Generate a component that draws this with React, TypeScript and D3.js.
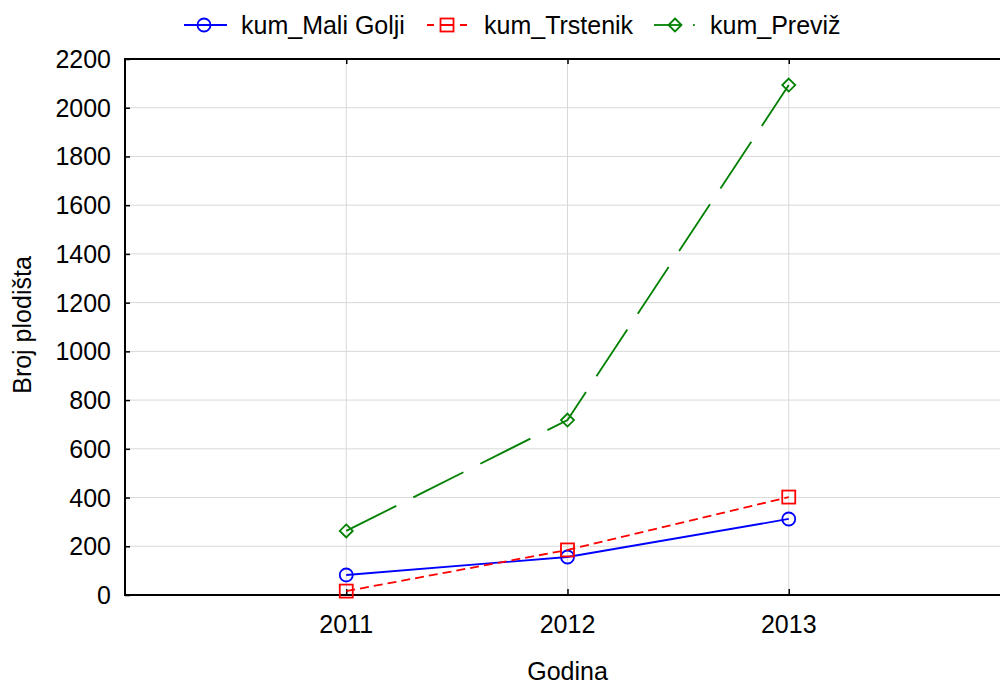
import React, { useEffect, useRef } from 'react';
import * as d3 from 'd3';

const years = [2011, 2012, 2013];
const maliGolji = [82, 156, 312];
const trstenik = [16, 185, 402];
const previz = [263, 718, 2093];
const yTicks = [0, 200, 400, 600, 800, 1000, 1200, 1400, 1600, 1800, 2000, 2200];

const seriesNames = ['kum_Mali Golji', 'kum_Trstenik', 'kum_Previž'];
const seriesColors = ['#0000ff', '#ff0000', '#008000'];
const seriesDash = ['none', '9,5', '56,19'];
const seriesMarker = ['circle', 'square', 'diamond'];

const W = 1000;
const H = 684;
const FONT = '"Liberation Sans", Arial, sans-serif';
const FS = 25;
const LW = 1.8;

const App: React.FC = () => {
  const svgRef = useRef<SVGSVGElement>(null);

  useEffect(() => {
    if (!svgRef.current) return;
    const svg = d3.select(svgRef.current);
    svg.selectAll('*').remove();

    const margin = { top: 59, right: -10, bottom: 89, left: 125 };
    const x = d3.scaleLinear().domain([2010, 2014]).range([margin.left, W - margin.right]);
    const y = d3.scaleLinear().domain([0, 2200]).range([H - margin.bottom, margin.top]);

    const values = [maliGolji, trstenik, previz];

    // grid
    svg.append('g')
      .selectAll('line')
      .data(yTicks.slice(1, -1))
      .enter()
      .append('line')
      .attr('x1', x(2010)).attr('x2', x(2014))
      .attr('y1', d => y(d)).attr('y2', d => y(d))
      .attr('stroke', '#d9d9d9').attr('stroke-width', 1);

    svg.append('g')
      .selectAll('line')
      .data(years)
      .enter()
      .append('line')
      .attr('x1', d => x(d)).attr('x2', d => x(d))
      .attr('y1', y(0)).attr('y2', y(2200))
      .attr('stroke', '#d9d9d9').attr('stroke-width', 1);

    // axes (ticks inside)
    const left = svg.append('g')
      .attr('transform', `translate(${x(2010)},0)`)
      .call(d3.axisRight(y).tickValues(yTicks).tickSize(5).tickFormat(() => ''));
    left.select('.domain').remove();
    left.selectAll('line').attr('stroke', '#000').attr('stroke-width', 1.5);

    const bottom = svg.append('g')
      .attr('transform', `translate(0,${y(0)})`)
      .call(d3.axisTop(x).tickValues(years).tickSize(6).tickFormat(() => ''));
    bottom.select('.domain').remove();
    bottom.selectAll('line').attr('stroke', '#000').attr('stroke-width', 1.5);

    const top = svg.append('g')
      .attr('transform', `translate(0,${y(2200)})`)
      .call(d3.axisBottom(x).tickValues(years).tickSize(5).tickFormat(() => ''));
    top.select('.domain').remove();
    top.selectAll('line').attr('stroke', '#000').attr('stroke-width', 1.5);

    // frame
    svg.append('path')
      .attr('d', `M${x(2014)},${y(2200)}H${x(2010)}V${y(0)}H${x(2014)}`)
      .attr('fill', 'none').attr('stroke', '#000').attr('stroke-width', 2);

    // tick labels
    svg.append('g')
      .selectAll('text')
      .data(yTicks)
      .enter()
      .append('text')
      .attr('x', x(2010) - 14)
      .attr('y', d => y(d))
      .attr('dy', '0.36em')
      .attr('text-anchor', 'end')
      .attr('font-family', FONT).attr('font-size', FS)
      .text(d => d);

    svg.append('g')
      .selectAll('text')
      .data(years)
      .enter()
      .append('text')
      .attr('x', d => x(d))
      .attr('y', 633)
      .attr('text-anchor', 'middle')
      .attr('font-family', FONT).attr('font-size', FS)
      .text(d => d);

    // axis titles
    svg.append('text')
      .attr('x', x(2012)).attr('y', 680)
      .attr('text-anchor', 'middle')
      .attr('font-family', FONT).attr('font-size', FS)
      .text('Godina');

    svg.append('text')
      .attr('transform', `translate(31,${325}) rotate(-90)`)
      .attr('text-anchor', 'middle')
      .attr('font-family', FONT).attr('font-size', FS)
      .text('Broj plodišta');

    const drawMarker = (g: d3.Selection<SVGGElement, unknown, null, undefined>, kind: string, cx: number, cy: number, color: string) => {
      if (kind === 'circle') {
        g.append('circle').attr('cx', cx).attr('cy', cy).attr('r', 6.5)
          .attr('fill', 'none').attr('stroke', color).attr('stroke-width', LW);
      } else if (kind === 'square') {
        g.append('rect').attr('x', cx - 6.5).attr('y', cy - 6.5).attr('width', 13).attr('height', 13)
          .attr('fill', 'none').attr('stroke', color).attr('stroke-width', LW);
      } else {
        g.append('path').attr('d', `M${cx},${cy - 6.5}L${cx + 6.5},${cy}L${cx},${cy + 6.5}L${cx - 6.5},${cy}Z`)
          .attr('fill', 'none').attr('stroke', color).attr('stroke-width', LW);
      }
    };

    // series
    const line = d3.line<number>()
      .x((_, i) => x(years[i]))
      .y(d => y(d));

    values.forEach((vals, si) => {
      const g = svg.append('g');
      g.append('path')
        .datum(vals)
        .attr('fill', 'none')
        .attr('stroke', seriesColors[si])
        .attr('stroke-width', LW)
        .attr('stroke-dasharray', seriesDash[si])
        .attr('d', line);
      vals.forEach((v, i) => drawMarker(g, seriesMarker[si], x(years[i]), y(v), seriesColors[si]));
    });

    // legend
    const legendY = 25;
    const legendText = [241, 484, 710];
    // blue
    const g0 = svg.append('g');
    g0.append('line').attr('x1', 184).attr('x2', 227).attr('y1', legendY).attr('y2', legendY)
      .attr('stroke', seriesColors[0]).attr('stroke-width', LW);
    drawMarker(g0, 'circle', 204, legendY, seriesColors[0]);
    // red
    const g1 = svg.append('g');
    g1.append('line').attr('x1', 427).attr('x2', 467).attr('y1', legendY).attr('y2', legendY)
      .attr('stroke', seriesColors[1]).attr('stroke-width', LW).attr('stroke-dasharray', '7,7,13,6,7');
    drawMarker(g1, 'square', 447, legendY, seriesColors[1]);
    // green
    const g2 = svg.append('g');
    g2.append('line').attr('x1', 654).attr('x2', 681).attr('y1', legendY).attr('y2', legendY)
      .attr('stroke', seriesColors[2]).attr('stroke-width', LW);
    drawMarker(g2, 'diamond', 675, legendY, seriesColors[2]);
    g2.append('rect').attr('x', 693).attr('y', legendY - 0.9).attr('width', 1.8).attr('height', 1.8)
      .attr('fill', seriesColors[2]);

    seriesNames.forEach((name, si) => {
      svg.append('text')
        .attr('x', legendText[si])
        .attr('y', legendY)
        .attr('dy', '0.36em')
        .attr('font-family', FONT).attr('font-size', FS)
        .text(name);
    });
  }, []);

  return (
    <svg ref={svgRef} width={W} height={H}
      style={{ position: 'absolute', left: 0, top: 0, background: '#fff', display: 'block' }} />
  );
};

export default App;
